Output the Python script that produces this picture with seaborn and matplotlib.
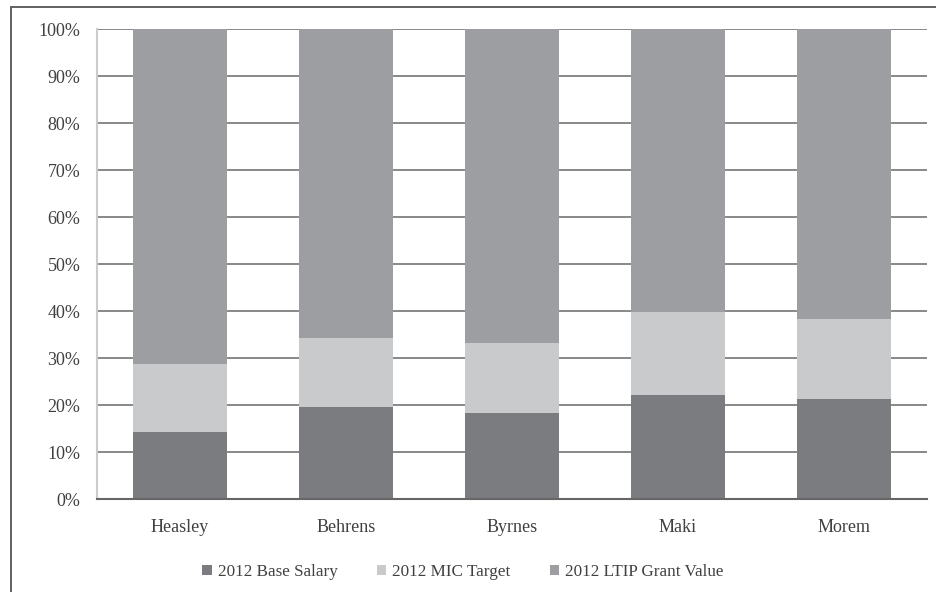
import seaborn as sns
import matplotlib.pyplot as plt
import pandas as pd

names = ['Heasley', 'Behrens', 'Byrnes', 'Maki', 'Morem']
base_salary = [14.3, 19.6, 18.4, 22.1, 21.3]
mic_target = [14.4, 14.7, 14.7, 17.7, 17.0]
ltip_grant = [71.3, 65.7, 66.9, 60.2, 61.7]
series = ['2012 Base Salary', '2012 MIC Target', '2012 LTIP Grant Value']
colors = ['#7b7c80', '#c9cacc', '#9d9ea1']
yticks = [0, 10, 20, 30, 40, 50, 60, 70, 80, 90, 100]

df = pd.DataFrame({'name': names, 'base': base_salary, 'mic': mic_target, 'ltip': ltip_grant})
df['base_mic'] = df['base'] + df['mic']
df['total'] = df['base_mic'] + df['ltip']

sns.set_style('white')
plt.rcParams['font.family'] = ['Liberation Serif', 'DejaVu Serif']

fig = plt.figure(figsize=(9.37, 5.92), dpi=100)
ax = fig.add_axes([0.1035, 0.157, 0.8858, 0.794])

# stack by drawing cumulative totals from back to front
sns.barplot(data=df, x='name', y='total', color=colors[2], width=0.57,
            saturation=1, ax=ax, zorder=2, label=series[2], linewidth=0)
sns.barplot(data=df, x='name', y='base_mic', color=colors[1], width=0.57,
            saturation=1, ax=ax, zorder=2, label=series[1], linewidth=0)
sns.barplot(data=df, x='name', y='base', color=colors[0], width=0.57,
            saturation=1, ax=ax, zorder=2, label=series[0], linewidth=0)

ax.set_ylim(0, 100)
ax.set_xlim(-0.5, 4.5)
ax.set_yticks(yticks)
ax.set_yticklabels([f'{t}%' for t in yticks])
ax.yaxis.grid(True, color='#7f7f7f', linewidth=1.3, zorder=0)
ax.set_axisbelow(True)
ax.set_xlabel('')
ax.set_ylabel('')
ax.tick_params(axis='both', length=0, labelsize=13, colors='#404040')
ax.tick_params(axis='x', pad=14)
ax.tick_params(axis='y', pad=12)
for s in ['top', 'right']:
    ax.spines[s].set_visible(False)
ax.spines['left'].set_color('#cccccc')
ax.spines['left'].set_linewidth(1.5)
ax.spines['bottom'].set_color('#666666')
ax.spines['bottom'].set_linewidth(1.5)

handles, labels = ax.get_legend_handles_labels()
order = [labels.index(s) for s in series]
leg = ax.legend([handles[i] for i in order], [labels[i] for i in order],
                loc='center', bbox_to_anchor=(0.441, -0.155), ncol=3, frameon=False,
                fontsize=12.3, handlelength=0.55, handleheight=0.55,
                handletextpad=0.35, columnspacing=2.3)
for t in leg.get_texts():
    t.set_color('#404040')

border = plt.Rectangle((11 / 937, -0.1), 1.1, 1.1 - 7 / 592, transform=fig.transFigure,
                       fill=False, edgecolor='#555555', linewidth=1.3)
fig.patches.append(border)

fig.savefig('out.png', dpi=100)
